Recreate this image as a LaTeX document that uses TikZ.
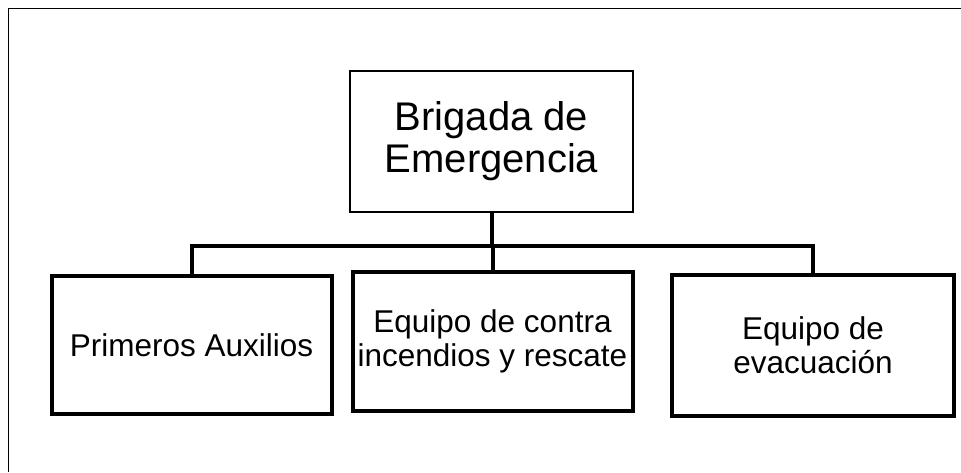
\documentclass[tikz,border=0pt]{standalone}
\usepackage{fontspec}
\setmainfont{Liberation Sans}
\begin{document}
\begin{tikzpicture}[x=1pt,y=-1pt,
  topbox/.style={draw=black, line width=1.5pt, minimum width=283pt, minimum height=141pt, inner sep=0pt, align=center,
    font=\fontsize{40}{42}\selectfont},
  childbox/.style={draw=black, line width=4pt, minimum width=280pt, minimum height=138pt, inner sep=0pt, align=center,
    font=\fontsize{31.5}{34}\selectfont},
  conn/.style={line width=4pt, line join=miter}]
\useasboundingbox (0,0) rectangle (961,472);
\fill[white] (0,0) rectangle (961,472);
\coordinate (fa) at (8.5,472);
\coordinate (fb) at (8.5,8.5);
\coordinate (fc) at (961,8.5);
\draw[line width=1.5pt] (fa) -- (fb) -- (fc);
\node[topbox] (top) at (491.5,141.5) {Brigada de\\Emergencia};
\node[childbox] (pa) at (191.5,345) {Primeros Auxilios};
\node[childbox, minimum height=139pt] (eq) at (492.5,341.5) {Equipo de contra\\incendios y rescate};
\node[childbox, minimum width=282pt, minimum height=141pt] (ev) at (813,345.5) {Equipo de\\evacuación};
\coordinate (j) at (491.5,245.5);
\draw[conn] (top.south) -- (j);
\draw[conn] (pa.north) |- (j) -| (ev.north);
\draw[conn] (j -| eq.north) -- (eq.north);
\end{tikzpicture}
\end{document}
